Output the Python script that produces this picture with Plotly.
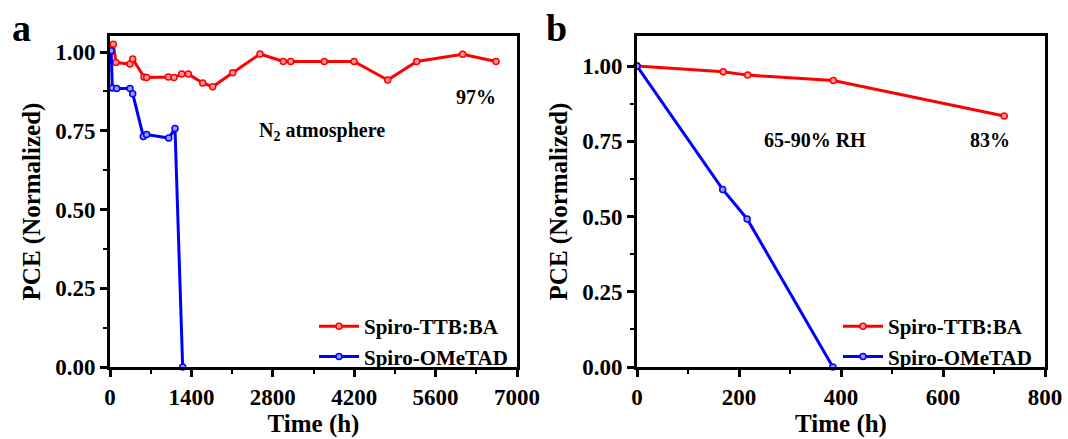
import plotly.graph_objects as go

# Panel a: N2 atmosphere
a_ttb_t = [57, 103, 344, 390, 585, 630, 1004, 1100, 1233, 1347, 1594, 1766, 2110, 2580, 2981, 3108, 3686, 4197, 4776, 5275, 6066, 6639]
a_ttb_v = [1.025, 0.967, 0.962, 0.978, 0.921, 0.919, 0.921, 0.919, 0.93, 0.93, 0.902, 0.89, 0.934, 0.994, 0.970, 0.970, 0.970, 0.970, 0.911, 0.970, 0.993, 0.970]
a_ome_t = [20, 40, 115, 344, 390, 573, 630, 1010, 1118, 1250]
a_ome_v = [1.004, 0.886, 0.884, 0.884, 0.868, 0.732, 0.738, 0.727, 0.757, 0.0]

# Panel b: 65-90% RH
b_ttb_t = [0, 169, 217, 385, 720]
b_ttb_v = [1.0, 0.981, 0.970, 0.952, 0.834]
b_ome_t = [0, 168, 216, 384]
b_ome_v = [1.0, 0.590, 0.492, 0.0]

a_xticks = [0, 1400, 2800, 4200, 5600, 7000]
b_xticks = [0, 200, 400, 600, 800]
yticks = [0.0, 0.25, 0.50, 0.75, 1.00]
ytick_text = ["0.00", "0.25", "0.50", "0.75", "1.00"]

FONT = "Liberation Serif"
RED = "#ff0000"
BLUE = "#0000ff"

fig = go.Figure()

def add(t, v, name, color, fill, xa, ya, legend, show=True):
    fig.add_trace(go.Scatter(
        x=t, y=v, name=name, mode="lines+markers",
        line=dict(color=color, width=3),
        marker=dict(symbol="circle", size=6, color=fill, line=dict(color=color, width=1.5)),
        xaxis=xa, yaxis=ya, legend=legend, showlegend=show, cliponaxis=False,
    ))

add(a_ttb_t, a_ttb_v, "Spiro-TTB:BA", RED, "#ff9a9a", "x", "y", "legend")
add(a_ome_t, a_ome_v, "Spiro-OMeTAD", BLUE, "#9a9aff", "x", "y", "legend")
add(b_ttb_t, b_ttb_v, "Spiro-TTB:BA", RED, "#ff9a9a", "x2", "y2", "legend2")
add(b_ome_t, b_ome_v, "Spiro-OMeTAD", BLUE, "#9a9aff", "x2", "y2", "legend2")

tickfont = dict(family=FONT, size=23, color="black", weight="bold")
titlefont = dict(family=FONT, size=25, color="black", weight="bold")
notefont = dict(family=FONT, size=20, color="black", weight="bold")
legfont = dict(family=FONT, size=21, color="black", weight="bold")

common_axis = dict(
    showline=True, linecolor="black", linewidth=3, mirror=True,
    ticks="outside", ticklen=7, tickwidth=2.5, tickcolor="black",
    showgrid=False, zeroline=False, tickfont=tickfont, automargin=False,
)

y0 = (439 - 367) / 439
y1 = (439 - 36) / 439
minor_y = dict(ticks="outside", ticklen=4, tickwidth=2, tickcolor="black", tickvals=[0.125, 0.375, 0.625, 0.875])

def note(text, px, py, font):
    return dict(text=text, x=px/1068, y=(439 - py)/439, xref="paper", yref="paper",
                xanchor="center", yanchor="middle", showarrow=False, font=font)

fig.update_layout(
    width=1068, height=439,
    margin=dict(l=0, r=0, t=0, b=0),
    paper_bgcolor="white", plot_bgcolor="white",
    xaxis=dict(domain=[110/1068, 517/1068], range=[0, 7000], tickvals=a_xticks,
               minor=dict(ticks="outside", ticklen=4, tickwidth=2, tickcolor="black", dtick=700),
               title=dict(text="Time (h)", font=titlefont, standoff=4), anchor="y", **common_axis),
    yaxis=dict(domain=[y0, y1], range=[0, 1.051], tickvals=yticks, ticktext=ytick_text,
               minor=minor_y,
               title=dict(text="PCE (Normalized)", font=titlefont, standoff=8), anchor="x", **common_axis),
    xaxis2=dict(domain=[637/1068, 1045/1068], range=[0, 800], tickvals=b_xticks,
                minor=dict(ticks="outside", ticklen=4, tickwidth=2, tickcolor="black", dtick=100),
                title=dict(text="Time (h)", font=titlefont, standoff=4), anchor="y2", **common_axis),
    yaxis2=dict(domain=[y0, y1], range=[0, 1.1], tickvals=yticks, ticktext=ytick_text,
                minor=minor_y,
                title=dict(text="PCE (Normalized)", font=titlefont, standoff=8), anchor="x2", **common_axis),
    legend=dict(x=314/1068, y=(439 - 306)/439, xanchor="left", yanchor="top",
                bgcolor="rgba(0,0,0,0)", font=legfont, tracegroupgap=0, itemwidth=40),
    legend2=dict(x=838/1068, y=(439 - 306)/439, xanchor="left", yanchor="top",
                 bgcolor="rgba(0,0,0,0)", font=legfont, tracegroupgap=0, itemwidth=40),
    annotations=[
        note("97%", 476, 97, notefont),
        note("N<sub>2</sub> atmosphere", 322, 131, notefont),
        note("65-90% RH", 815, 140, notefont),
        note("83%", 990, 140, notefont),
        note("a", 22, 28, dict(family=FONT, size=38, color="black", weight="bold")),
        note("b", 556, 28, dict(family=FONT, size=38, color="black", weight="bold")),
    ],
)

fig.write_html("out.html", config={"displayModeBar": False},
               post_script="document.body.style.margin='0';document.body.style.overflow='hidden';")
